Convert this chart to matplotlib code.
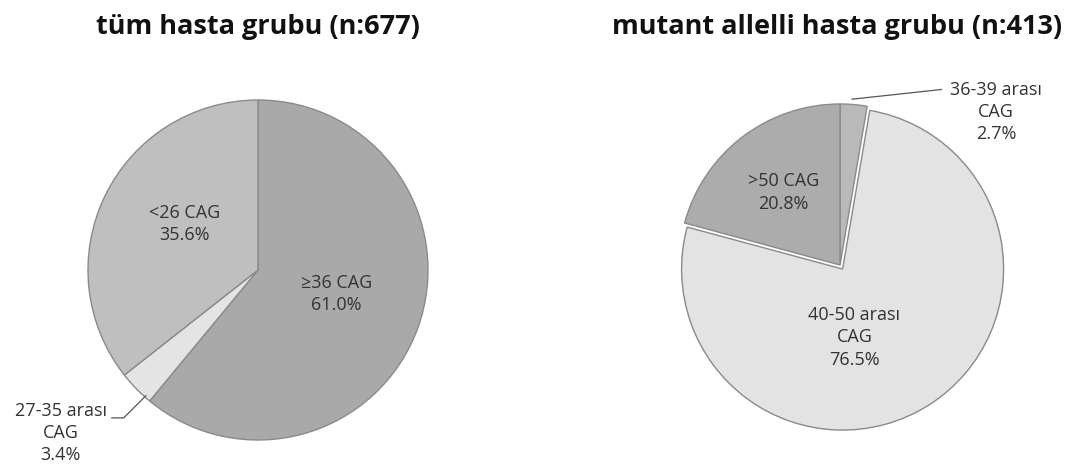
import matplotlib.pyplot as plt

plt.rcParams['font.family'] = ['Open Sans', 'DejaVu Sans']

# left pie: all patients
left_title = "tüm hasta grubu (n:677)"
left_labels = ["≥36 CAG", "27-35 arası\nCAG", "<26 CAG"]
left_values = [61.0, 3.4, 35.6]
left_colors = ["#a9a9a9", "#e4e4e4", "#bfbfbf"]

# right pie: mutant allele patients
right_title = "mutant allelli hasta grubu (n:413)"
right_labels = ["36-39 arası\nCAG", "40-50 arası\nCAG", ">50 CAG"]
right_values = [2.7, 76.5, 20.8]
right_colors = ["#b9b9b9", "#e3e3e3", "#acacac"]

W, H = 1088, 470
fig = plt.figure(figsize=(W / 100, H / 100), dpi=100)


def add_pie_axes(cx, cy, r):
    ax = fig.add_axes([(cx - r) / W, (H - cy - r) / H, 2 * r / W, 2 * r / H])
    ax.axis("off")
    return ax


def fix_limits(ax):
    # pie() resets the limits, so set them again afterwards
    ax.set_xlim(-1, 1)
    ax.set_ylim(-1, 1)
    ax.set_aspect("equal")


def label(ax, name, val, x, y):
    ax.text(x, y, f"{name}\n{val:.1f}%", ha="center", va="center",
            fontsize=13, color="#333333", linespacing=1.3, clip_on=False)


# ---- left ----
ax1 = add_pie_axes(258, 270, 170)
ax1.pie(left_values, colors=left_colors, startangle=90, counterclock=False,
        radius=1.0, wedgeprops=dict(edgecolor="#8a8a8a", linewidth=1.0))
fix_limits(ax1)
label(ax1, left_labels[0], left_values[0], 0.46, -0.14)
label(ax1, left_labels[2], left_values[2], -0.43, 0.27)
label(ax1, left_labels[1], left_values[1], -1.16, -0.96)
ax1.plot([-0.86, -0.79, -0.66], [-0.87, -0.87, -0.74], color="#555555",
         lw=0.9, clip_on=False)
fig.text(258 / W, 1 - 27 / H, left_title, ha="center", va="center",
         fontsize=19.5, fontweight="bold", color="#111111")

# ---- right ----
ax2 = add_pie_axes(840, 265, 161)
ax2.pie(right_values, colors=right_colors, startangle=90, counterclock=False,
        radius=1.0, explode=[0, 0.03, 0],
        wedgeprops=dict(edgecolor="#8a8a8a", linewidth=1.0))
fix_limits(ax2)
label(ax2, right_labels[1], right_values[1], 0.09, -0.45)
label(ax2, right_labels[2], right_values[2], -0.35, 0.45)
label(ax2, right_labels[0], right_values[0], 0.97, 0.95)
ax2.plot([0.075, 0.63], [1.03, 1.09], color="#555555", lw=0.9, clip_on=False)
fig.text(837 / W, 1 - 27 / H, right_title, ha="center", va="center",
         fontsize=19.5, fontweight="bold", color="#111111")

fig.savefig("out.png", dpi=100, facecolor="white")
